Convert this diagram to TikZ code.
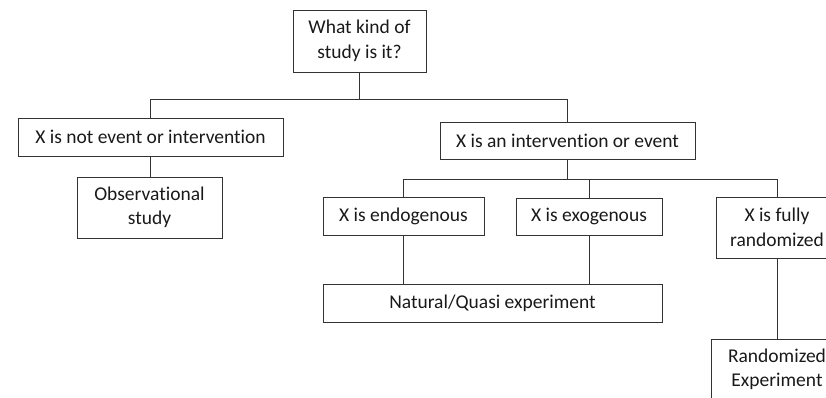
\documentclass[tikz,border=0pt]{standalone}
\usepackage{fontspec}
\setmainfont[Ligatures={NoCommon}]{Carlito}
\begin{document}
\begin{tikzpicture}[x=1pt,y=-1pt,
  box/.style={draw=black!80, line width=1pt, text=black!90, align=center, inner sep=0pt,
    font=\fontsize{19.5}{24.5}\selectfont},
  link/.style={draw=black!80, line width=1pt}]
\useasboundingbox (0,0) rectangle (826,397);
\clip (0,0) rectangle (826,397);
\node[box, minimum width=133pt, minimum height=62pt] (q) at (359.5,41) {What kind of\\study is it?};
\node[box, minimum width=265pt, minimum height=38pt] (n1) at (150.5,137) {X is not event or intervention};
\node[box, minimum width=145pt, minimum height=61pt] (obs) at (149.5,207.5) {Observational\\study};
\node[box, minimum width=255pt, minimum height=37pt] (n2) at (567.5,140.5) {X is an intervention or event};
\node[box, minimum width=161pt, minimum height=38pt] (endo) at (403.5,216) {X is endogenous};
\node[box, minimum width=146pt, minimum height=37pt] (exo) at (589,216.5) {X is exogenous};
\node[box, minimum width=122pt, minimum height=61pt] (full) at (777,227.5) {X is fully\\randomized};
\node[box, minimum width=339pt, minimum height=38pt] (nat) at (492.5,303) {Natural/Quasi experiment};
\node[box, minimum width=132pt, minimum height=61pt] (rand) at (777,369.5) {Randomized\\Experiment};
\coordinate (j1) at (359.5,99);
\coordinate (j2) at (567.5,179);
\draw[link] (q.south) -- (j1) -| (n1.north);
\draw[link] (j1) -| (n2.north);
\draw[link] (n1.south) -- (n1.south |- obs.north);
\draw[link] (n2.south) -- (j2) -| (endo.north);
\draw[link] (j2) -| (exo.north);
\draw[link] (j2) -| (full.north);
\draw[link] (endo.south) -- (endo.south |- nat.north);
\draw[link] (exo.south) -- (exo.south |- nat.north);
\draw[link] (full.south) -- (rand.north);
\end{tikzpicture}
\end{document}
